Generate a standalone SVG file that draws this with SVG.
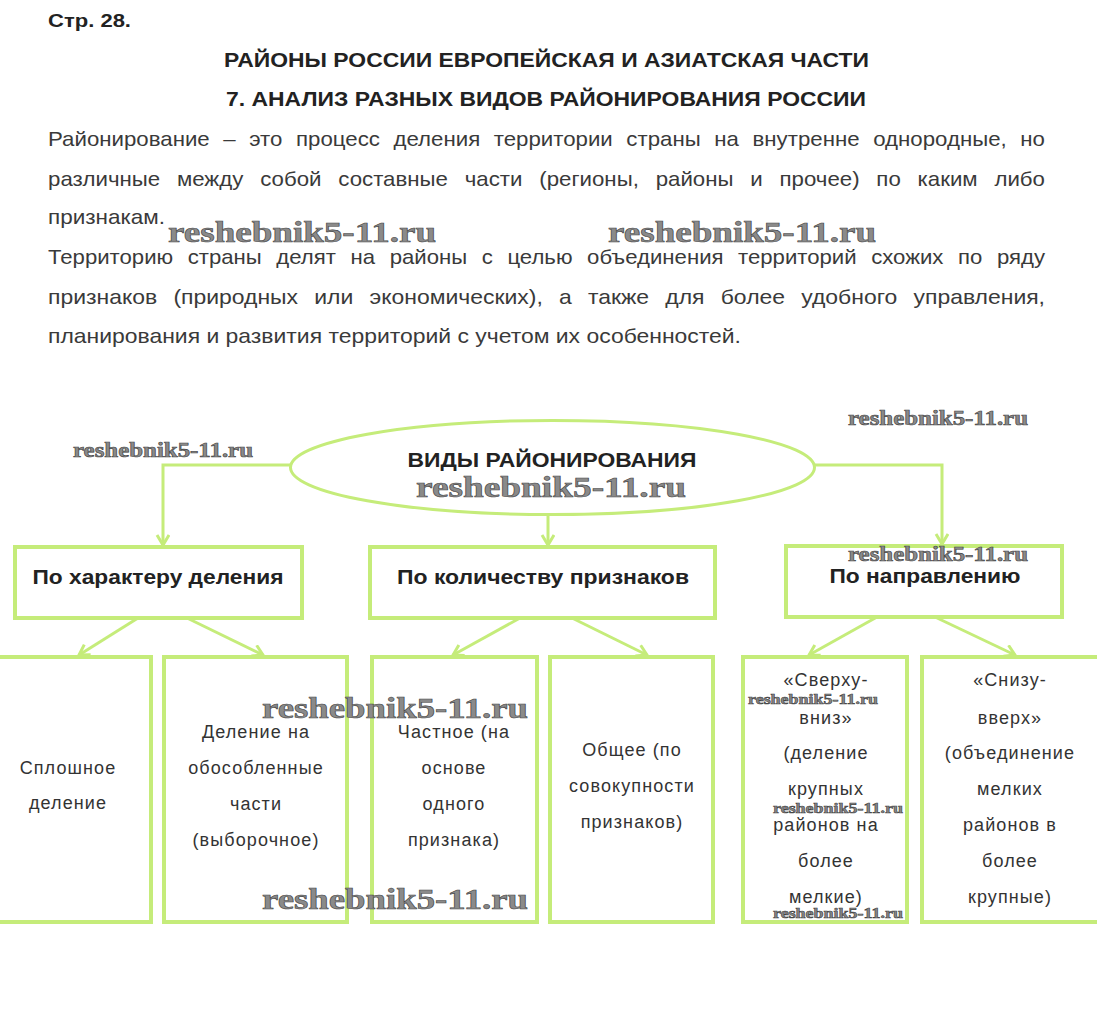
<svg xmlns="http://www.w3.org/2000/svg" width="1097" height="1033" viewBox="0 0 1097 1033">
<defs>
<style>
.h{font-family:"Liberation Sans",Arial,sans-serif;font-weight:bold;fill:#222;}
.p{font-family:"Liberation Sans",Arial,sans-serif;font-size:21px;fill:#3a3a3a;}
.n{font-family:"Liberation Sans",Arial,sans-serif;font-size:20px;font-weight:bold;fill:#222;text-anchor:middle;}
.t{font-family:"Liberation Sans",Arial,sans-serif;font-size:18px;fill:#333;text-anchor:middle;letter-spacing:1.1px;}
.box{fill:#fff;stroke:#c5ec7a;stroke-width:4;}
.con{fill:none;stroke:#c5ec7a;stroke-width:3;}
.wm{font-family:"Liberation Serif","DejaVu Serif",serif;font-weight:bold;fill:#8a8a8a;stroke:#444;stroke-width:0.6;}
</style>
<marker id="arr" markerUnits="userSpaceOnUse" markerWidth="18" markerHeight="18" refX="11" refY="7" orient="auto">
<path d="M1,1 L11,7 L1,13" fill="none" stroke="#c5ec7a" stroke-width="3"/>
</marker>
</defs>
<rect width="1097" height="1033" fill="#fff"/>

<g id="header">
<text class="h" x="48" y="27" font-size="19" textLength="83" lengthAdjust="spacingAndGlyphs">Стр. 28.</text>
<text class="h" x="224" y="67" font-size="21" textLength="645" lengthAdjust="spacingAndGlyphs">РАЙОНЫ РОССИИ ЕВРОПЕЙСКАЯ И АЗИАТСКАЯ ЧАСТИ</text>
<text class="h" x="226" y="106" font-size="21" textLength="640" lengthAdjust="spacingAndGlyphs">7. АНАЛИЗ РАЗНЫХ ВИДОВ РАЙОНИРОВАНИЯ РОССИИ</text>
</g>

<g id="paragraph">
<text class="p" x="48" y="146" word-spacing="7" textLength="997" lengthAdjust="spacingAndGlyphs">Районирование – это процесс деления территории страны на внутренне однородные, но</text>
<text class="p" x="48" y="186" word-spacing="10" textLength="997" lengthAdjust="spacingAndGlyphs">различные между собой составные части (регионы, районы и прочее) по каким либо</text>
<text class="p" x="48" y="224" textLength="117" lengthAdjust="spacingAndGlyphs">признакам.</text>
<text class="p" x="48" y="264" word-spacing="8" textLength="997" lengthAdjust="spacingAndGlyphs">Территорию страны делят на районы с целью объединения территорий схожих по ряду</text>
<text class="p" x="48" y="304" word-spacing="9" textLength="997" lengthAdjust="spacingAndGlyphs">признаков (природных или экономических), а также для более удобного управления,</text>
<text class="p" x="48" y="343" textLength="693" lengthAdjust="spacingAndGlyphs">планирования и развития территорий с учетом их особенностей.</text>
</g>

<g id="connectors">
<path class="con" d="M290,465 H163 V545" marker-end="url(#arr)"/>
<path class="con" d="M548,516 V545" marker-end="url(#arr)"/>
<path class="con" d="M815,465 H942 V544" marker-end="url(#arr)"/>
<path class="con" d="M138,618 L79,655" marker-end="url(#arr)"/>
<path class="con" d="M187,618 L263,655" marker-end="url(#arr)"/>
<path class="con" d="M520,618 L453,655" marker-end="url(#arr)"/>
<path class="con" d="M572,618 L647,655" marker-end="url(#arr)"/>
<path class="con" d="M877,617 L809,655" marker-end="url(#arr)"/>
<path class="con" d="M935,617 L1015,655" marker-end="url(#arr)"/>
</g>

<g id="root">
<ellipse cx="552.5" cy="467.5" rx="262" ry="47" fill="#fff" stroke="#c5ec7a" stroke-width="3"/>
<text class="n" x="552" y="467" textLength="289" lengthAdjust="spacingAndGlyphs">ВИДЫ РАЙОНИРОВАНИЯ</text>
</g>

<g id="node-character">
<rect class="box" x="15" y="547" width="287" height="71"/>
<text class="n" x="158" y="584" textLength="251" lengthAdjust="spacingAndGlyphs">По характеру деления</text>
</g>
<g id="node-count">
<rect class="box" x="370" y="547" width="345" height="71"/>
<text class="n" x="543" y="584" textLength="292" lengthAdjust="spacingAndGlyphs">По количеству признаков</text>
</g>
<g id="node-direction">
<rect class="box" x="786" y="546" width="276" height="71"/>
<text class="n" x="925" y="583" textLength="191" lengthAdjust="spacingAndGlyphs">По направлению</text>
</g>

<g id="node-solid">
<rect class="box" x="-5" y="657" width="156" height="265"/>
<text class="t" x="68" y="774">Сплошное</text>
<text class="t" x="68" y="809">деление</text>
</g>
<g id="node-separate">
<rect class="box" x="164" y="657" width="183" height="265"/>
<text class="t" x="256" y="738">Деление на</text>
<text class="t" x="256" y="774">обособленные</text>
<text class="t" x="256" y="810">части</text>
<text class="t" x="256" y="846">(выборочное)</text>
</g>
<g id="node-partial">
<rect class="box" x="372" y="657" width="165" height="265"/>
<text class="t" x="454" y="738">Частное (на</text>
<text class="t" x="454" y="774">основе</text>
<text class="t" x="454" y="810">одного</text>
<text class="t" x="454" y="846">признака)</text>
</g>
<g id="node-general">
<rect class="box" x="550" y="657" width="163" height="265"/>
<text class="t" x="632" y="756">Общее (по</text>
<text class="t" x="632" y="792">совокупности</text>
<text class="t" x="632" y="828">признаков)</text>
</g>
<g id="node-topdown">
<rect class="box" x="743" y="657" width="164" height="265"/>
<text class="t" x="826" y="686">«Сверху-</text>
<text class="t" x="826" y="724">вниз»</text>
<text class="t" x="826" y="759">(деление</text>
<text class="t" x="826" y="795">крупных</text>
<text class="t" x="826" y="831">районов на</text>
<text class="t" x="826" y="867">более</text>
<text class="t" x="826" y="903">мелкие)</text>
</g>
<g id="node-bottomup">
<rect class="box" x="922" y="657" width="185" height="265"/>
<text class="t" x="1010" y="686">«Снизу-</text>
<text class="t" x="1010" y="724">вверх»</text>
<text class="t" x="1010" y="759">(объединение</text>
<text class="t" x="1010" y="795">мелких</text>
<text class="t" x="1010" y="831">районов в</text>
<text class="t" x="1010" y="867">более</text>
<text class="t" x="1010" y="903">крупные)</text>
</g>

<g id="watermarks">
<text class="wm" x="168" y="242" font-size="30" textLength="268" lengthAdjust="spacingAndGlyphs">reshebnik5-11.ru</text>
<text class="wm" x="608" y="242" font-size="30" textLength="268" lengthAdjust="spacingAndGlyphs">reshebnik5-11.ru</text>
<text class="wm" x="73" y="457" font-size="20" textLength="180" lengthAdjust="spacingAndGlyphs">reshebnik5-11.ru</text>
<text class="wm" x="848" y="425" font-size="20" textLength="180" lengthAdjust="spacingAndGlyphs">reshebnik5-11.ru</text>
<text class="wm" x="416" y="497" font-size="30" textLength="270" lengthAdjust="spacingAndGlyphs">reshebnik5-11.ru</text>
<text class="wm" x="848" y="561" font-size="20" textLength="180" lengthAdjust="spacingAndGlyphs">reshebnik5-11.ru</text>
<text class="wm" x="262" y="718" font-size="30" textLength="266" lengthAdjust="spacingAndGlyphs">reshebnik5-11.ru</text>
<text class="wm" x="748" y="704" font-size="15" textLength="130" lengthAdjust="spacingAndGlyphs">reshebnik5-11.ru</text>
<text class="wm" x="773" y="813" font-size="15" textLength="130" lengthAdjust="spacingAndGlyphs">reshebnik5-11.ru</text>
<text class="wm" x="262" y="909" font-size="30" textLength="266" lengthAdjust="spacingAndGlyphs">reshebnik5-11.ru</text>
<text class="wm" x="773" y="918" font-size="15" textLength="130" lengthAdjust="spacingAndGlyphs">reshebnik5-11.ru</text>
</g>
</svg>
